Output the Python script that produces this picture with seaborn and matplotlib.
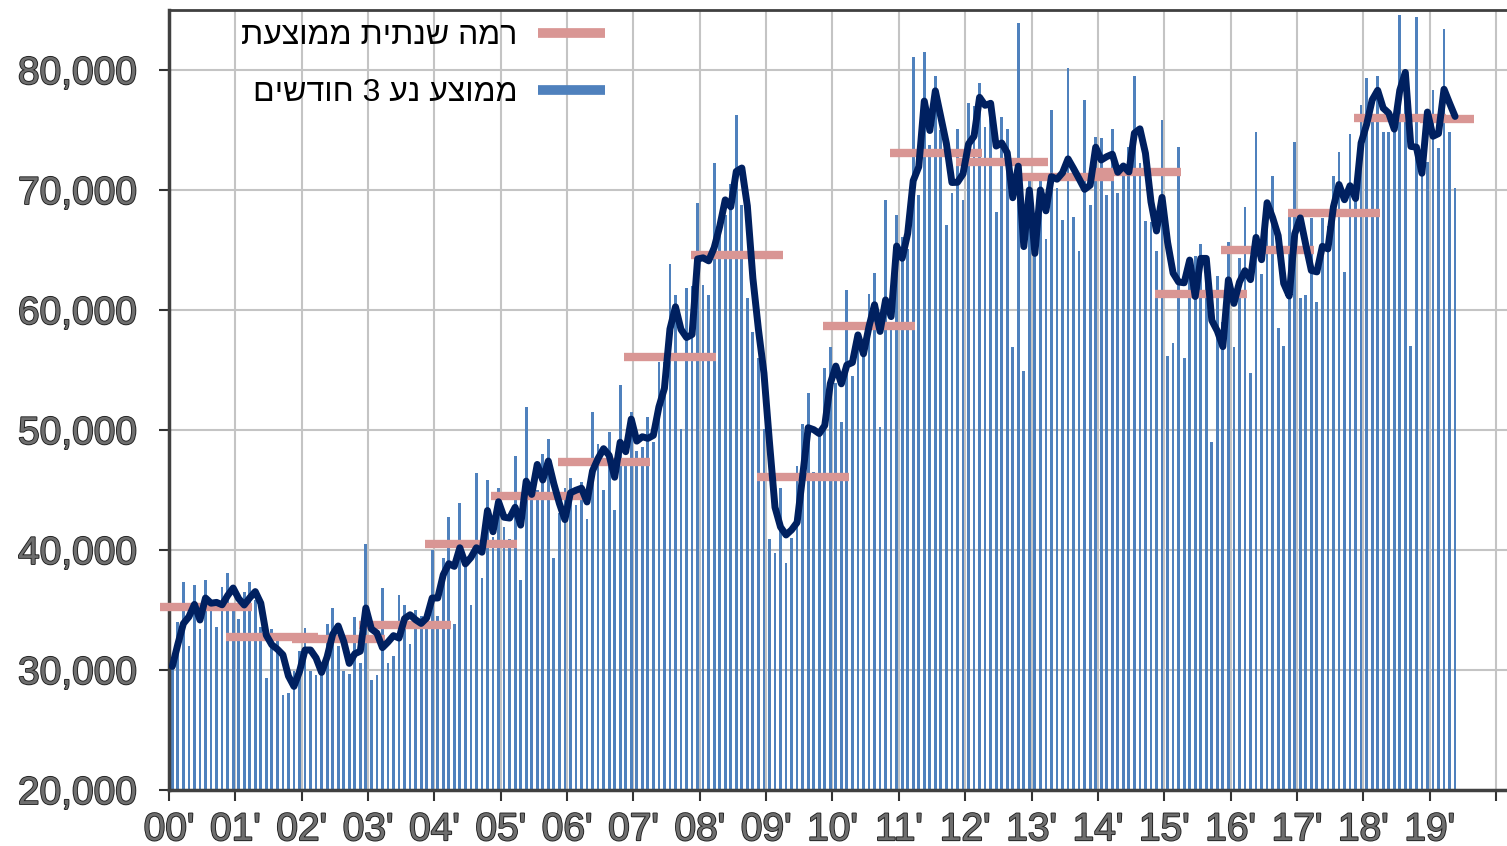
import numpy as np
import pandas as pd
import matplotlib
matplotlib.use("Agg")
import matplotlib.pyplot as plt
import matplotlib.patheffects as pe
from matplotlib.lines import Line2D
from matplotlib import font_manager
import seaborn as sns

# monthly values, Jan 2000 - May 2019
m2000 = [30300, 34000, 37300, 32000, 37100, 33400, 37500, 35800, 33600, 36900, 38100, 35500]
m2001 = [34250, 36500, 37300, 35800, 33600, 29300, 33400, 32500, 27900, 28100, 29900, 31600]
m2002 = [33500, 29900, 29600, 29900, 33800, 35200, 32000, 29950, 29700, 34400, 30600, 40500]
m2003 = [29170, 29560, 36860, 30560, 31170, 36250, 35420, 32140, 35000, 34500, 33500, 40000]
m2004 = [34500, 39300, 42780, 33830, 43950, 38750, 35420, 46390, 37640, 45830, 41100, 45140]
m2005 = [41950, 40890, 47830, 37500, 51890, 44500, 45000, 48000, 49250, 39310, 43100, 45190]
m2006 = [46000, 43750, 45700, 42560, 51530, 48800, 45000, 49860, 43330, 53750, 47500, 51470]
m2007 = [48250, 48600, 51060, 49000, 55700, 55700, 63840, 61250, 50060, 61810, 62000, 68950]
m2008 = [62090, 61250, 72230, 67400, 67900, 70500, 76250, 68750, 61000, 58200, 55970, 50060]
m2009 = [40890, 39720, 45140, 38900, 41000, 47000, 50470, 53110, 46500, 49500, 55140, 56950]
m2010 = [53890, 50700, 61670, 54500, 57600, 56950, 61300, 63060, 50280, 69170, 58900, 67920]
m2011 = [66110, 65100, 81110, 69590, 81530, 73750, 79500, 75000, 67090, 69780, 75060, 69170]
m2012 = [77280, 77000, 78890, 75280, 77500, 68200, 76060, 75060, 56950, 83950, 54950, 71100]
m2013 = [68100, 70800, 65890, 76670, 70140, 67500, 80140, 67720, 64950, 77500, 68750, 74450]
m2014 = [74300, 69590, 75060, 69780, 71160, 73560, 79500, 72230, 67450, 67360, 64950, 75840]
m2015 = [56170, 57220, 73610, 55970, 62900, 64500, 65500, 62900, 49000, 62840, 59000, 65700]
m2016 = [56950, 64310, 68560, 54720, 74860, 63000, 68950, 71150, 58500, 57000, 68000, 74030]
m2017 = [61000, 61250, 67640, 60640, 67640, 67000, 71170, 73200, 63200, 74670, 70000, 77080]
m2018 = [79310, 76110, 79500, 74860, 74860, 75500, 84580, 79320, 57000, 84390, 72800, 72300]
m2019 = [78330, 73470, 83390, 74860, 70140]

by_year = [m2000, m2001, m2002, m2003, m2004, m2005, m2006, m2007, m2008, m2009,
           m2010, m2011, m2012, m2013, m2014, m2015, m2016, m2017, m2018, m2019]
monthly = [v for yr in by_year for v in yr]

years = list(range(2000, 2020))
year_level = [35250, 32750, 32580, 33750, 40500, 44500, 47330, 56080, 64580, 46080,
              58670, 73080, 72330, 71080, 71500, 61330, 65000, 68080, 76000, 75900]
year_labels = ["00'", "01'", "02'", "03'", "04'", "05'", "06'", "07'", "08'", "09'",
               "10'", "11'", "12'", "13'", "14'", "15'", "16'", "17'", "18'", "19'"]
legend_labels = ["רמה שנתית ממוצעת", "ממוצע נע 3 חודשים"]

BLUE = "#4F81BD"
NAVY = "#002060"
PINK = "#D99694"

n = len(monthly)
df = pd.DataFrame({
    "x": 2000 + (np.arange(n) + 0.6) / 12,
    "value": monthly,
})
df["ma3"] = df["value"].rolling(3, min_periods=1).mean()

names = {f.name for f in font_manager.fontManager.ttflist}
narrow = "Liberation Sans Narrow" if "Liberation Sans Narrow" in names else "Liberation Sans"

fig = plt.figure(figsize=(15.07, 8.46), dpi=100)
ax = fig.add_axes([169 / 1507, 56 / 846, 1338 / 1507, 780 / 846])

sns.barplot(data=df, x="x", y="value", native_scale=True, orient="x", width=0.5,
            color=BLUE, saturation=1, errorbar=None, linewidth=0, ax=ax, zorder=2)

seg_start = [y - 0.14 for y in years]
seg_end = [y + len(m) / 12 + 0.25 for y, m in zip(years, by_year)]
ax.hlines(year_level, seg_start, seg_end, colors=PINK, lw=6, zorder=3, clip_on=False)

sns.lineplot(data=df, x="x", y="ma3", color=NAVY, lw=5, estimator=None, ax=ax,
             zorder=4, solid_joinstyle="round", solid_capstyle="round")

ax.set_xlim(2000, 2000 + 1338 / 66.35)
ax.set_ylim(20000, 85000)
ax.set_xlabel("")
ax.set_ylabel("")

tick_fx = [pe.Stroke(linewidth=1.3, foreground="#1e1e1e"), pe.Normal()]
ax.set_xticks(range(2000, 2021))
ax.set_xticklabels(year_labels + [""], family=[narrow, "DejaVu Sans"], fontsize=28,
                   color="#6e6e6e", path_effects=tick_fx)
yt = list(range(20000, 80001, 10000))
ax.set_yticks(yt)
ax.set_yticklabels([f"{v:,}" for v in yt], family=["Liberation Sans", "DejaVu Sans"],
                   fontsize=28, color="#6e6e6e", path_effects=tick_fx)

ax.grid(True, color="#c4c4c4", lw=1.5)
ax.set_axisbelow(True)
ax.tick_params(axis="y", length=7, width=1.5, pad=16, color="#333333")
ax.tick_params(axis="x", length=8, width=1.5, pad=8, color="#333333")

ax.spines["right"].set_visible(False)
for side in ["left", "bottom"]:
    ax.spines[side].set_color("#404040")
    ax.spines[side].set_linewidth(2.5)
ax.spines["top"].set_color("#404040")
ax.spines["top"].set_linewidth(2)

handles = [Line2D([], [], color=PINK, lw=7, solid_capstyle="butt"),
           Line2D([], [], color=BLUE, lw=7, solid_capstyle="butt")]
fig.legend(handles, [s[::-1] for s in legend_labels], loc="upper right",
           bbox_to_anchor=(605 / 1507, 1 - 21 / 846), frameon=False, markerfirst=False,
           handlelength=2.1, handletextpad=0.65, labelspacing=0.84, borderpad=0,
           borderaxespad=0, prop={"family": ["Liberation Sans", "DejaVu Sans"], "size": 23})

fig.savefig("out.png", dpi=100)
